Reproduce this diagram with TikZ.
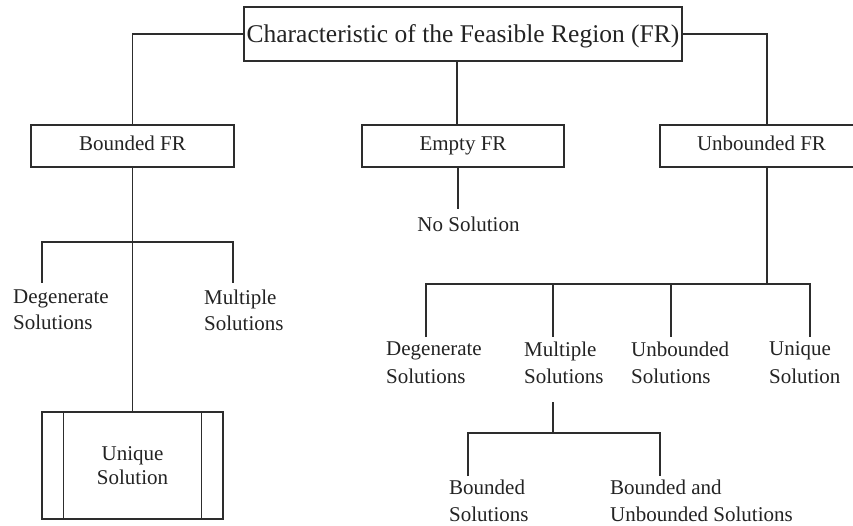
\documentclass[tikz,border=0pt]{standalone}
\usepackage{fontspec}
\setmainfont{Liberation Serif}
\begin{document}
\begin{tikzpicture}[x=1pt,y=-1pt,
  ink/.style={draw={rgb,255:red,45;green,45;blue,45}, line width=1.3pt},
  box/.style={ink, rectangle, inner sep=0pt, minimum height=42pt, minimum width=203pt,
    text height=14.3pt, text depth=4.5pt,
    font=\fontsize{21}{25}\selectfont, text={rgb,255:red,35;green,35;blue,35}},
  lbl/.style={inner sep=0pt, anchor=north west, align=left, text={rgb,255:red,35;green,35;blue,35}},
  lblA/.style={lbl, font=\fontsize{21}{26}\selectfont},
  lblB/.style={lbl, font=\fontsize{21}{27.5}\selectfont},
  wire/.style={ink}]
\useasboundingbox (0,0) rectangle (853,526);
\fill[white] (0,0) rectangle (853,526);

% top level
\node[box, minimum width=438pt, minimum height=54pt, text height=17.5pt, text depth=0pt,
      font=\fontsize{25.5}{30}\selectfont] (top) at (463,34) {Characteristic of the Feasible Region (FR)};
\node[box] (bfr) at (132.5,146) {Bounded FR};
\node[box, minimum width=202pt] (efr) at (463,146) {Empty FR};
\node[box] (ufr) at (761.5,146) {Unbounded FR};

\draw[wire] (top.west) -| (bfr.north);
\draw[wire] (top.east) -| ([xshift=5.5pt]ufr.north);
\draw[wire] ([xshift=-6pt]top.south) -- ([xshift=-6pt]efr.north);

% empty FR
\node[lbl, font=\fontsize{21}{26}\selectfont, anchor=north] (nosol) at (468.5,216.5) {No Solution};
\coordinate (ns) at (458,209);
\draw[wire] ([xshift=-5pt]efr.south) -- (ns);

% bounded FR subtree
\node[ink, rectangle, inner sep=0pt, minimum width=181pt, minimum height=107pt,
      align=center, font=\fontsize{21}{24.5}\selectfont, text={rgb,255:red,35;green,35;blue,35}] (uni) at (132.5,465.5) {Unique\\Solution};
\draw[wire] ([xshift=22pt]uni.north west) -- ([xshift=22pt]uni.south west);
\draw[wire] ([xshift=-22pt]uni.north east) -- ([xshift=-22pt]uni.south east);
\draw[wire] (bfr.south) -- (uni.north);

\node[lblA] (bdeg) at (13,289.7) {Degenerate\\Solutions};
\node[lblA] (bmul) at (204,289.7) {Multiple\\Solutions};
\coordinate (bj) at (132.5,242);
\coordinate (bjl) at (42,242);
\coordinate (bjr) at (233,242);
\coordinate (bdl) at (42,283);
\coordinate (bdr) at (233,283);
\draw[wire] (bdl) -- (bjl) -- (bjr) -- (bdr);

% unbounded FR subtree
\coordinate (uj) at (767,284);
\draw[wire] ([xshift=5.5pt]ufr.south) -- (uj);
\coordinate (u1) at (426,284);
\coordinate (u2) at (553,284);
\coordinate (u3) at (671,284);
\coordinate (u4) at (810,284);
\coordinate (e1) at (426,337);
\coordinate (e2) at (553,337);
\coordinate (e3) at (671,337);
\coordinate (e4) at (810,337);
\draw[wire] (e1) -- (u1) -- (u4) -- (e4);
\draw[wire] (u2) -- (e2);
\draw[wire] (u3) -- (e3);
\node[lblB] (udeg) at (386,341.7) {Degenerate\\Solutions};
\node[lblB] (umul) at (524,341.7) {Multiple\\Solutions};
\node[lblB] (uunb) at (631,341.7) {Unbounded\\Solutions};
\node[lblB] (uuni) at (769,341.7) {Unique\\Solution};

% multiple solutions subtree
\coordinate (m0) at (553,402);
\coordinate (mj) at (553,433);
\coordinate (ml) at (468,433);
\coordinate (mr) at (660,433);
\coordinate (mld) at (468,476);
\coordinate (mrd) at (660,476);
\draw[wire] (m0) -- (mj);
\draw[wire] (mld) -- (ml) -- (mr) -- (mrd);
\node[lblB] (mbs) at (449,479.7) {Bounded\\Solutions};
\node[lblB] (mbu) at (610,479.7) {Bounded and\\Unbounded Solutions};
\end{tikzpicture}
\end{document}
